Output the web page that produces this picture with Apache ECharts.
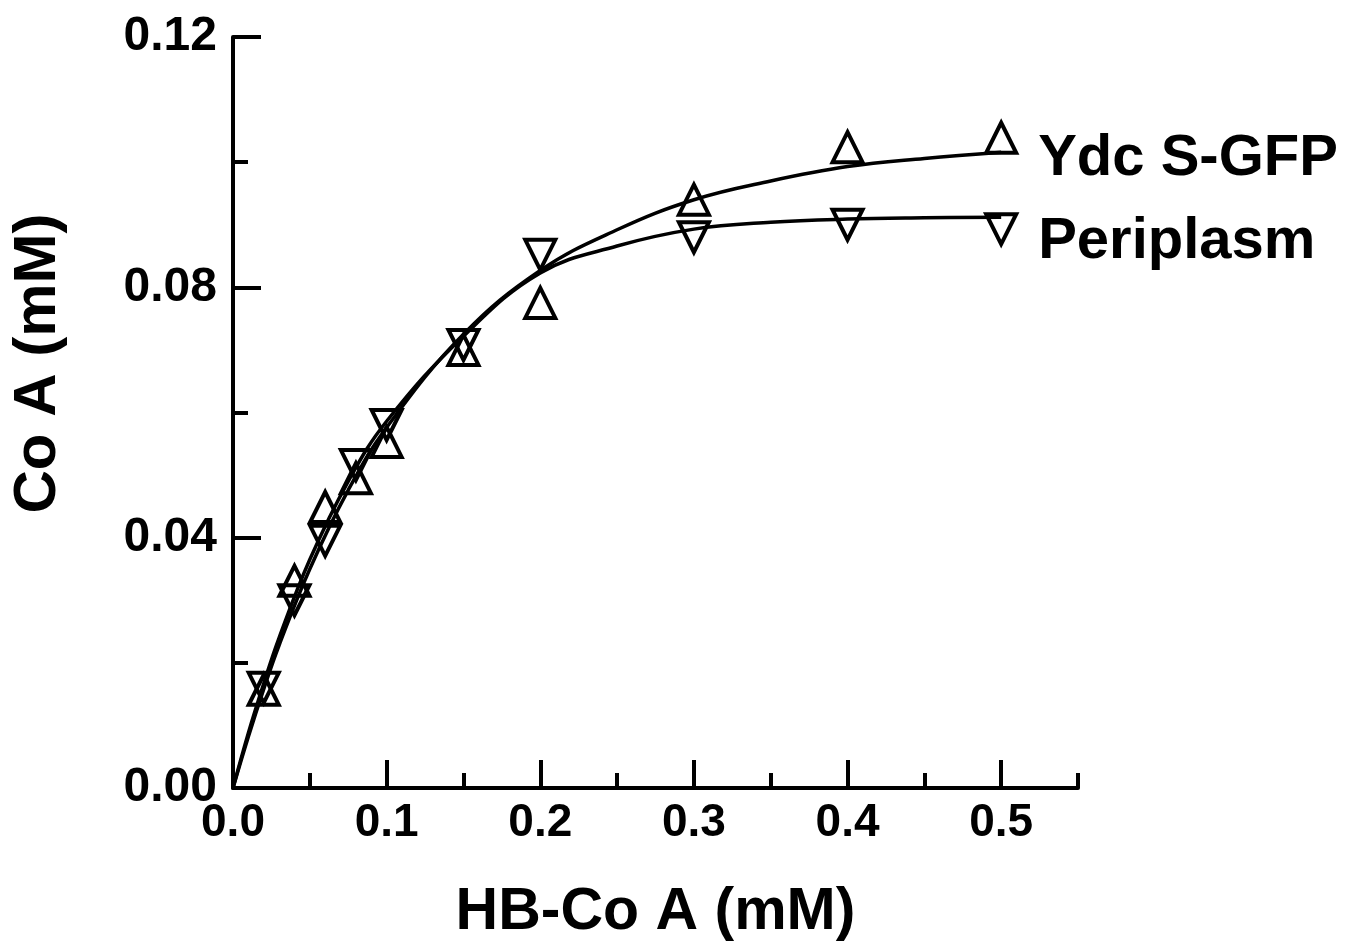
<!DOCTYPE html>
<html><head><meta charset="utf-8">
<script src="https://cdn.jsdelivr.net/npm/echarts@6/dist/echarts.min.js"></script>
<style>html,body{margin:0;padding:0;background:#fff}#c{width:1345px;height:942px}</style>
</head><body><div id="c"></div>
<script>
// measured points
const xPoints = [0.02, 0.04, 0.06, 0.08, 0.10, 0.15, 0.20, 0.30, 0.40, 0.50];
const ydcPoints = [0.0157, 0.0331, 0.0449, 0.0495, 0.0553, 0.0700, 0.0775, 0.0940, 0.1024, 0.1039];
const periPoints = [0.0160, 0.0300, 0.0395, 0.0516, 0.0580, 0.0708, 0.0852, 0.0880, 0.0900, 0.0893];
// fitted curves
const xFit = [0, 0.01, 0.02, 0.03, 0.05, 0.075, 0.10, 0.15, 0.20, 0.25, 0.30, 0.35, 0.40, 0.45, 0.50];
const ydcFit = [0, 0.0082, 0.0158, 0.0228, 0.0350, 0.0476, 0.0576, 0.0725, 0.0827, 0.0892, 0.0940, 0.0970, 0.0993, 0.1006, 0.1016];
const periFit = [0, 0.0088, 0.0167, 0.0240, 0.0365, 0.0490, 0.0586, 0.0722, 0.0823, 0.0866, 0.0893, 0.0904, 0.0909, 0.0911, 0.0912];
const seriesNames = ['Ydc S-GFP', 'Periplasm'];
// axis ticks
const xMajorTicks = [0, 0.1, 0.2, 0.3, 0.4, 0.5];
const xMinorTicks = [0.05, 0.15, 0.25, 0.35, 0.45, 0.55];
const xTickLabels = ['0.0', '0.1', '0.2', '0.3', '0.4', '0.5'];
const yTickLabels = ['0.00', '0.04', '0.08', '0.12'];
const xTitle = 'HB-Co A (mM)';
const yTitle = 'Co A (mM)';

const FONT = "'Liberation Sans', Arial, Helvetica, sans-serif";
const chart = echarts.init(document.getElementById('c'), null, {renderer: 'canvas'});

function pts(ys, xs) { return xs.map((x, i) => [x, ys[i]]); }
function markers(ys, name, off) {
  return xPoints.map((x, i) => {
    const item = {value: [x, ys[i]]};
    if (i === xPoints.length - 1) {
      item.label = {show: true, formatter: name, position: 'right', distance: 20, offset: off,
        fontFamily: FONT, fontWeight: 'bold', fontSize: 58, color: '#000', opacity: 1};
    }
    return item;
  });
}
const markerStyle = {color: 'rgba(0,0,0,0)', borderColor: '#000', borderWidth: 4, opacity: 1};

chart.setOption({
  animation: false,
  backgroundColor: '#fff',
  grid: {left: 233, right: 267, top: 37, bottom: 154, containLabel: false, outerBoundsMode: 'none'},
  xAxis: [{
    type: 'value', min: 0, max: 0.55, position: 'bottom',
    name: xTitle, nameLocation: 'middle', nameGap: 95,
    nameTextStyle: {fontFamily: FONT, fontWeight: 'bold', fontSize: 59, color: '#000'},
    axisLine: {show: true, onZero: false, lineStyle: {color: '#000', width: 4}},
    axisTick: {show: true, inside: true, length: 28, customValues: xMajorTicks, lineStyle: {color: '#000', width: 4}},
    axisLabel: {show: true, customValues: xMajorTicks, margin: 12,
      formatter: v => xTickLabels[xMajorTicks.findIndex(t => Math.abs(t - v) < 1e-9)] ?? '',
      fontFamily: FONT, fontWeight: 'bold', fontSize: 46, color: '#000'},
    splitLine: {show: false}
  }, {
    type: 'value', min: 0, max: 0.55, position: 'bottom',
    axisLine: {show: false},
    axisTick: {show: true, inside: true, length: 15, customValues: xMinorTicks, lineStyle: {color: '#000', width: 4}},
    axisLabel: {show: false},
    splitLine: {show: false}
  }],
  yAxis: {
    type: 'value', min: 0, max: 0.12, interval: 0.04,
    name: yTitle, nameLocation: 'middle', nameGap: 165, nameRotate: 90,
    nameTextStyle: {fontFamily: FONT, fontWeight: 'bold', fontSize: 60, color: '#000', padding: [0, 0, 0, 98]},
    axisLine: {show: true, onZero: false, lineStyle: {color: '#000', width: 4}},
    axisTick: {show: true, inside: true, length: 28, lineStyle: {color: '#000', width: 4}},
    minorTick: {show: true, splitNumber: 2, length: 15, lineStyle: {color: '#000', width: 4}},
    axisLabel: {margin: 16, formatter: v => yTickLabels[Math.round(v / 0.04)] ?? '',
      fontFamily: FONT, fontWeight: 'bold', fontSize: 48, color: '#000'},
    splitLine: {show: false}
  },
  series: [
    {type: 'line', name: seriesNames[0] + ' fit', data: pts(ydcFit, xFit), smooth: 0.4, showSymbol: false,
      lineStyle: {color: '#000', width: 3.5}, z: 2, silent: true},
    {type: 'line', name: seriesNames[1] + ' fit', data: pts(periFit, xFit), smooth: 0.4, showSymbol: false,
      lineStyle: {color: '#000', width: 3.5}, z: 2, silent: true},
    {type: 'scatter', name: seriesNames[0], data: markers(ydcPoints, seriesNames[0], [0, 21]),
      symbol: 'triangle', symbolSize: [30, 30], itemStyle: markerStyle, z: 3},
    {type: 'scatter', name: seriesNames[1], data: markers(periPoints, seriesNames[1], [0, 13]),
      symbol: 'triangle', symbolRotate: 180, symbolSize: [30, 30], itemStyle: markerStyle, z: 3}
  ]
});
</script></body></html>
